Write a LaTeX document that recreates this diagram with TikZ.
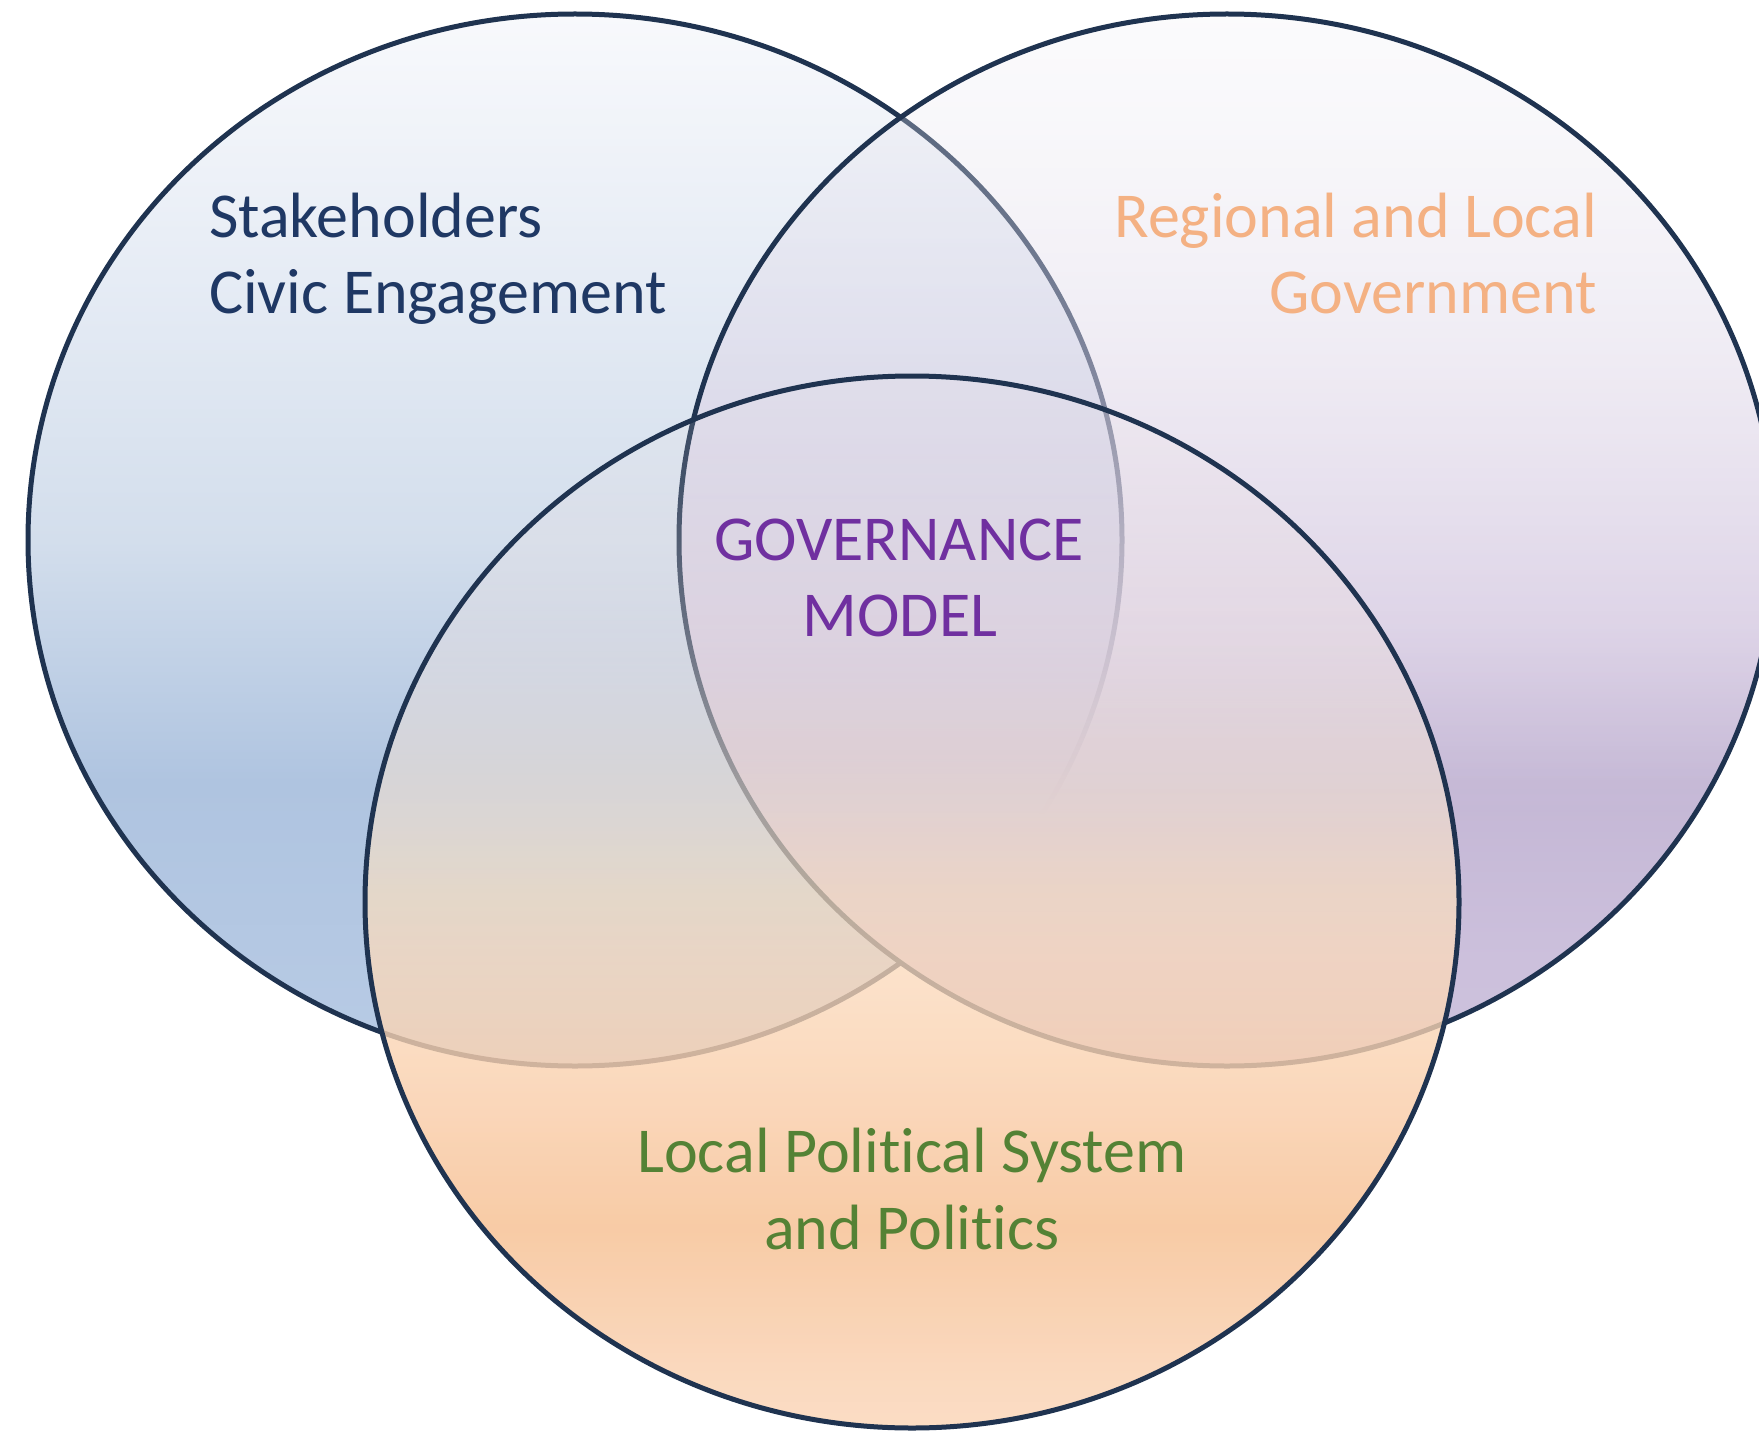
\documentclass[tikz,border=0pt]{standalone}
\usepackage{fontspec}
\setmainfont{Carlito}[Ligatures={NoCommon}]
\usetikzlibrary{fadings}

\definecolor{outl}{HTML}{1F3350}
\definecolor{stkcol}{HTML}{1F3864}
\definecolor{regcol}{HTML}{F4B183}
\definecolor{govcol}{HTML}{7030A0}
\definecolor{polcol}{HTML}{548235}

% left ellipse colours
\definecolor{lc0}{RGB}{248,249,252}
\definecolor{lc1}{RGB}{230,236,245}
\definecolor{lc2}{RGB}{211,222,236}
\definecolor{lc3}{RGB}{175,196,224}
\definecolor{lc4}{RGB}{184,203,229}
% right ellipse colours
\definecolor{rc0}{RGB}{236,236,242}
\definecolor{rc1}{RGB}{224,217,233}
\definecolor{rc2}{RGB}{220,211,230}
\definecolor{rc3}{RGB}{213,201,225}
\definecolor{rc4}{RGB}{196,183,213}
\definecolor{rc5}{RGB}{204,192,220}
\definecolor{rc6}{RGB}{204,194,221}
% bottom ellipse colours
\definecolor{bc0}{RGB}{240,228,230}
\definecolor{bc1}{RGB}{240,226,222}
\definecolor{bc2}{RGB}{243,225,208}
\definecolor{bc3}{RGB}{250,223,191}
\definecolor{bc4}{RGB}{251,218,187}
\definecolor{bc5}{RGB}{249,206,171}
\definecolor{bc6}{RGB}{247,194,150}
\definecolor{bc7}{RGB}{249,210,179}
\definecolor{bc8}{RGB}{250,215,186}

\pgfdeclareverticalshading{leftsh}{100bp}{color(0bp)=(lc4); color(25bp)=(lc4); color(38.5bp)=(lc3); color(50bp)=(lc2); color(62.5bp)=(lc1); color(75bp)=(lc0); color(100bp)=(lc0)}
\pgfdeclareverticalshading{rightsh}{100bp}{color(0bp)=(rc6); color(25bp)=(rc6); color(30bp)=(rc5); color(38.5bp)=(rc4); color(46bp)=(rc3); color(55.5bp)=(rc2); color(60bp)=(rc1); color(75bp)=(rc0); color(100bp)=(rc0)}
\pgfdeclareverticalshading{botsh}{100bp}{color(0bp)=(bc8); color(25bp)=(bc8); color(27.5bp)=(bc7); color(34.5bp)=(bc6); color(40bp)=(bc5); color(47.5bp)=(bc4); color(50.5bp)=(bc3); color(55bp)=(bc2); color(61.5bp)=(bc1); color(75bp)=(bc0); color(100bp)=(bc0)}

% opacity profiles (white = opaque, black = transparent)
\pgfdeclareverticalshading{rfadesh}{100bp}{color(0bp)=(white!95!black); color(25bp)=(white!95!black); color(30bp)=(white); color(38.5bp)=(white); color(43bp)=(white!90!black); color(47.5bp)=(white!77!black); color(55.5bp)=(white!55!black); color(60bp)=(white!45!black); color(70bp)=(white!25!black); color(75bp)=(white!20!black); color(100bp)=(white!20!black)}
\pgfdeclareverticalshading{bfadesh}{100bp}{color(0bp)=(white!85!black); color(25bp)=(white!85!black); color(40bp)=(white!85!black); color(47.5bp)=(white!75!black); color(55bp)=(white!60!black); color(61.5bp)=(white!35!black); color(67.5bp)=(white!18!black); color(75bp)=(white!8!black); color(100bp)=(white!8!black)}

\begin{tikzfadingfrompicture}[name=rfade]
  \shade[shading=rfadesh] (-1cm,-1cm) rectangle (1cm,1cm);
\end{tikzfadingfrompicture}
\begin{tikzfadingfrompicture}[name=bfade]
  \shade[shading=bfadesh] (-1cm,-1cm) rectangle (1cm,1cm);
\end{tikzfadingfrompicture}

\tikzset{
  rim/.style={draw=outl, line width=5pt},
  lbl/.style={inner sep=0pt, font=\fontsize{64}{76}\selectfont}
}

\begin{document}
\begin{tikzpicture}[x=1pt,y=-1pt]
\useasboundingbox (0,0) rectangle (1759,1431);
\coordinate (cL) at (575,540);
\coordinate (cR) at (1227,540);
\coordinate (cB) at (912,902);

% left circle
\shade[shading=leftsh] (cL) ellipse [x radius=547pt, y radius=526pt];
\draw[rim] (cL) ellipse [x radius=547pt, y radius=526pt];
% right circle
\shade[shading=rightsh, path fading=rfade] (cR) ellipse [x radius=548pt, y radius=526pt];
\draw[rim] (cR) ellipse [x radius=548pt, y radius=526pt];
% bottom circle
\shade[shading=botsh, path fading=bfade] (cB) ellipse [x radius=547pt, y radius=526pt];
\draw[rim] (cB) ellipse [x radius=547pt, y radius=526pt];

\node[lbl, text=stkcol, anchor=base west] (stk1) at (209,238) {Stakeholders};
\node[lbl, text=stkcol, anchor=base west] (stk2) at (209,313) {Civic Engagement};
\node[lbl, text=regcol, anchor=base east] (reg1) at (1597,238) {Regional and Local};
\node[lbl, text=regcol, anchor=base east] (reg2) at (1597,313) {Government};
\node[lbl, text=govcol, anchor=base] (gov1) at (899,560) {GOVERNANCE};
\node[lbl, text=govcol, anchor=base] (gov2) at (900,636) {MODEL};
\node[lbl, text=polcol, anchor=base] (pol1) at (912,1172) {Local Political System};
\node[lbl, text=polcol, anchor=base] (pol2) at (912,1249) {and Politics};
\end{tikzpicture}
\end{document}
